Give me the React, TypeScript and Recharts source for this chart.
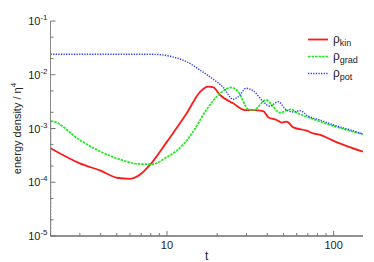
import { LineChart, Line, XAxis, YAxis, Legend } from "recharts";

const FONT = "Liberation Sans, Arial, sans-serif";

// time values and energy densities (log-log)
const T_KIN = [2, 3, 4, 5.1, 6, 7.05, 7.9, 10, 13.1, 15.8, 17.7, 19, 20.8, 23.9, 24.9, 29.4, 33, 37.8, 40.5, 45.5, 48.8, 52.2, 57.3, 68.9, 75.5, 82.8, 100, 120, 150];
const RHO_KIN = [4.3e-4, 2.25e-4, 1.64e-4, 1.2e-4, 1.16e-4, 1.47e-4, 2.1e-4, 5.7e-4, 1.9e-3, 4.8e-3, 6.0e-3, 5.8e-3, 4.2e-3, 3.15e-3, 2.95e-3, 2.2e-3, 2.2e-3, 2.1e-3, 1.62e-3, 1.44e-3, 1.29e-3, 1.34e-3, 1.05e-3, 9.1e-4, 8.1e-4, 7.6e-4, 5.9e-4, 4.7e-4, 3.7e-4];

const T_GRAD = [2, 2, 3, 4, 5.2, 6.9, 8.2, 10, 11.2, 12.5, 14.2, 17.2, 20.8, 24.4, 26.8, 30.8, 33, 39.4, 42.1, 47.5, 55.5, 60.8, 68.9, 82.8, 100, 126, 150];
const RHO_GRAD = [1e-5, 1.38e-3, 6.1e-4, 3.7e-4, 2.67e-4, 2.18e-4, 2.18e-4, 2.95e-4, 3.7e-4, 5.0e-4, 8.3e-4, 2.2e-3, 4.5e-3, 5.8e-3, 4.8e-3, 2.27e-3, 2.2e-3, 3.4e-3, 2.86e-3, 1.97e-3, 2.27e-3, 1.92e-3, 1.66e-3, 1.34e-3, 1.11e-3, 9.0e-4, 7.8e-4];

const T_POT = [2, 4, 8.2, 10.7, 13.1, 15.8, 19, 21.8, 24.9, 26.8, 29.9, 33, 37.8, 41.3, 46.4, 52.2, 57.3, 62.9, 70.4, 82.8, 100, 126, 150];
const RHO_POT = [2.4e-2, 2.4e-2, 2.4e-2, 2.17e-2, 1.75e-2, 1.22e-2, 8.2e-3, 5.8e-3, 3.5e-3, 3.9e-3, 5.6e-3, 5.0e-3, 3.15e-3, 2.6e-3, 3.15e-3, 2.2e-3, 2.03e-3, 2.14e-3, 1.7e-3, 1.44e-3, 1.16e-3, 9.4e-4, 7.9e-4];

const X_TICKS = [2, 3, 4, 5, 6, 7, 8, 9, 10, 20, 30, 40, 50, 60, 70, 80, 90, 100];
const Y_TICKS = [1e-5, 2e-5, 5e-5, 1e-4, 2e-4, 5e-4, 1e-3, 2e-3, 5e-3, 1e-2, 2e-2, 5e-2, 1e-1];

const zip = (ts: number[], vs: number[]) => ts.map((t, i) => ({ t, v: vs[i] }));

const SERIES = [
  { key: "kin", data: zip(T_KIN, RHO_KIN), color: "#ff1a1a", width: 1.8, dash: undefined },
  { key: "grad", data: zip(T_GRAD, RHO_GRAD), color: "#1ee81e", width: 1.7, dash: "2.5 1" },
  { key: "pot", data: zip(T_POT, RHO_POT), color: "#2a3cff", width: 1.4, dash: "1.3 1.3" },
];

const isMajor = (v: number) => Math.abs(Math.log10(v) - Math.round(Math.log10(v))) < 1e-6;
const TICK_GRAY = "#777";

const BottomTick = (props: any) => {
  const { x, y, payload } = props;
  const major = isMajor(payload.value);
  return (
    <g>
      <line x1={x} x2={x} y1={y} y2={y - (major ? 5 : 3)} stroke={TICK_GRAY} />
      {major && payload.value >= 10 && (
        <text x={x} y={y + 12.5} textAnchor="middle" fontSize={11} fontFamily={FONT} fill="#222">
          {payload.value}
        </text>
      )}
    </g>
  );
};

const TopTick = (props: any) => {
  const { x, y, payload } = props;
  const major = isMajor(payload.value);
  return <line x1={x} x2={x} y1={y} y2={y + (major ? 5 : 3)} stroke={TICK_GRAY} />;
};

const LeftTick = (props: any) => {
  const { x, y, payload } = props;
  const major = isMajor(payload.value);
  const exp = Math.round(Math.log10(payload.value));
  return (
    <g>
      <line x1={x} x2={x + (major ? 5 : 3)} y1={y} y2={y} stroke={TICK_GRAY} />
      {major && (
        <text x={x - 3} y={y + 4} textAnchor="end" fontSize={11} fontFamily={FONT} fill="#222">
          <tspan>10</tspan>
          <tspan dy={-5} fontSize={8}>{exp}</tspan>
        </text>
      )}
    </g>
  );
};

const RightTick = (props: any) => {
  const { x, y, payload } = props;
  const major = isMajor(payload.value);
  return <line x1={x} x2={x - (major ? 5 : 3)} y1={y} y2={y} stroke={TICK_GRAY} />;
};

const YLabel = (props: any) => {
  const { viewBox } = props;
  const cy = viewBox.y + viewBox.height / 2;
  const cx = 21;
  return (
    <text x={cx} y={cy} transform={`rotate(-90 ${cx} ${cy})`} textAnchor="middle" fontSize={11} fontFamily={FONT} fill="#222">
      <tspan>energy density / η</tspan>
      <tspan dy={-5} fontSize={8}>4</tspan>
    </text>
  );
};

const LegendBox = () => (
  <svg width={74} height={56} style={{ display: "block" }}>
    {SERIES.map((s, i) => {
      const y = 11.5 + i * 17;
      return (
        <g key={s.key}>
          <line x1={8} x2={28} y1={y} y2={y} stroke={s.color} strokeWidth={s.width} strokeDasharray={s.dash} />
          <text x={33} y={y + 3.5} fontSize={12} fontFamily={FONT} fill="#222">
            <tspan>ρ</tspan>
            <tspan dy={2.5} fontSize={9}>{s.key}</tspan>
          </text>
        </g>
      );
    })}
  </svg>
);

export default function App() {
  return (
    <div style={{ position: "absolute", left: 0, top: 0 }}>
      <LineChart width={374} height={262} margin={{ top: 21, right: 11, bottom: 0, left: 0 }}>
        <XAxis
          dataKey="t"
          type="number"
          scale="log"
          domain={[2, 150]}
          allowDataOverflow
          ticks={X_TICKS}
          interval={0}
          height={26}
          tickSize={0}
          tickMargin={0}
          tickLine={false}
          axisLine={{ stroke: "#222" }}
          tick={<BottomTick />}
          label={{ value: "t", position: "insideBottom", offset: 2, fontSize: 12, fontFamily: FONT, fill: "#222" }}
        />
        <XAxis
          xAxisId="top"
          orientation="top"
          dataKey="t"
          type="number"
          scale="log"
          domain={[2, 150]}
          allowDataOverflow
          ticks={X_TICKS}
          interval={0}
          height={0}
          tickSize={0}
          tickMargin={0}
          tickLine={false}
          axisLine={{ stroke: "#888" }}
          tick={<TopTick />}
          label={{ value: "RD", position: "top", offset: 6, fontSize: 11, fontFamily: FONT, fill: "#222" }}
        />
        <YAxis
          type="number"
          scale="log"
          domain={[1e-5, 1e-1]}
          allowDataOverflow
          ticks={Y_TICKS}
          interval={0}
          width={50.5}
          tickSize={0}
          tickMargin={0}
          tickLine={false}
          axisLine={{ stroke: "#888" }}
          tick={<LeftTick />}
          label={<YLabel />}
        />
        <YAxis
          yAxisId="right"
          orientation="right"
          type="number"
          scale="log"
          domain={[1e-5, 1e-1]}
          allowDataOverflow
          ticks={Y_TICKS}
          interval={0}
          width={0}
          tickSize={0}
          tickMargin={0}
          tickLine={false}
          axisLine={{ stroke: "#888" }}
          tick={<RightTick />}
        />
        <Legend
          layout="vertical"
          align="center"
          verticalAlign="middle"
          content={<LegendBox />}
          wrapperStyle={{ left: 300, top: 28, width: 74, height: 56 }}
        />
        {SERIES.map((s) => (
          <Line
            key={s.key}
            data={s.data}
            dataKey="v"
            type="monotoneX"
            stroke={s.color}
            strokeWidth={s.width}
            strokeDasharray={s.dash}
            dot={false}
            activeDot={false}
            isAnimationActive={false}
          />
        ))}
      </LineChart>
    </div>
  );
}
